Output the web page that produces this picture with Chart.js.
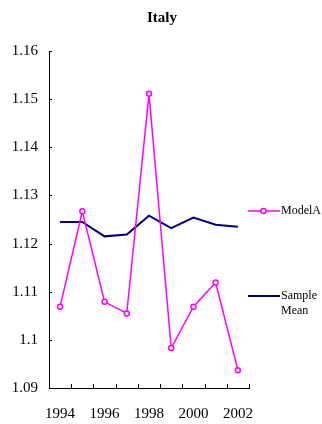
<!DOCTYPE html>
<html>
<head>
<meta charset="utf-8">
<script src="https://cdn.jsdelivr.net/npm/chart.js@4/dist/chart.umd.min.js"></script>
<style>
  html, body { margin: 0; padding: 0; background: #fff; }
  #wrap { width: 322px; height: 424px; }
</style>
</head>
<body>
<div id="wrap"><canvas id="myChart" width="322" height="424"></canvas></div>
<script>
const years = ['1994', '1995', '1996', '1997', '1998', '1999', '2000', '2001', '2002'];
const modelA = [1.1069, 1.1267, 1.1079, 1.1055, 1.1511, 1.0983, 1.1069, 1.1119, 1.0937];
const sampleMean = [1.1245, 1.1245, 1.1215, 1.1219, 1.1258, 1.1232, 1.1254, 1.1239, 1.1235];
const yTicks = [1.09, 1.10, 1.11, 1.12, 1.13, 1.14, 1.15, 1.16];

const serif = '"Liberation Serif", "Times New Roman", serif';

// title, inside tick marks and the legend on the right
const extras = {
    id: 'extras',
    afterDraw(chart) {
        const c = chart.ctx;
        const area = chart.chartArea;
        const ys = chart.scales.y;
        c.save();
        c.strokeStyle = '#000';
        c.lineWidth = 1;
        c.beginPath();
        yTicks.forEach(v => {
            const y = Math.round(ys.getPixelForValue(v)) + 0.5;
            c.moveTo(area.left, y);
            c.lineTo(area.left + 3, y);
        });
        const n = years.length;
        for (let i = 0; i <= n; i++) {
            const x = Math.round(area.left + i * (area.right - area.left) / n) + 0.5;
            c.moveTo(x, area.bottom);
            c.lineTo(x, area.bottom - 4);
        }
        c.stroke();

        c.fillStyle = '#000';
        c.font = 'bold 15px ' + serif;
        c.textAlign = 'center';
        c.textBaseline = 'middle';
        c.fillText('Italy', 162, 18);

        // legend
        c.lineWidth = 1.5;
        c.strokeStyle = '#FF00FF';
        c.beginPath();
        c.moveTo(248, 211);
        c.lineTo(280, 211);
        c.stroke();
        c.beginPath();
        c.arc(263.5, 211, 2.5, 0, Math.PI * 2);
        c.fillStyle = '#fff';
        c.fill();
        c.stroke();

        c.lineWidth = 2;
        c.strokeStyle = '#000080';
        c.beginPath();
        c.moveTo(248, 296);
        c.lineTo(280, 296);
        c.stroke();

        c.fillStyle = '#000';
        c.font = '12px ' + serif;
        c.textAlign = 'left';
        c.fillText('ModelA', 281, 211);
        c.fillText('Sample', 281, 296);
        c.fillText('Mean', 281, 311);
        c.restore();
    }
};

const ctx = document.getElementById('myChart');
new Chart(ctx, {
    type: 'line',
    data: {
        labels: years,
        datasets: [
            {
                label: 'ModelA',
                data: modelA,
                borderColor: '#FF00FF',
                borderWidth: 1.5,
                pointRadius: 2.5,
                pointBorderWidth: 1.5,
                pointBackgroundColor: '#fff',
                pointBorderColor: '#FF00FF',
                tension: 0
            },
            {
                label: 'Sample Mean',
                data: sampleMean,
                borderColor: '#000080',
                borderWidth: 2,
                pointRadius: 0,
                tension: 0
            }
        ]
    },
    options: {
        responsive: false,
        animation: false,
        devicePixelRatio: 1,
        layout: { padding: { left: 0, right: 73, top: 51, bottom: 0 } },
        plugins: {
            legend: { display: false },
            title: { display: false },
            tooltip: { enabled: false }
        },
        scales: {
            x: {
                type: 'category',
                offset: true,
                grid: { display: true, drawOnChartArea: false, drawTicks: false, offset: true },
                border: { display: true, color: '#000', width: 1 },
                ticks: {
                    autoSkip: false,
                    maxRotation: 0,
                    padding: 17,
                    color: '#000',
                    font: { family: serif, size: 15 },
                    callback: (v, i) => (i % 2 === 0 ? years[i] : '')
                },
                afterFit: s => { s.height = 36; }
            },
            y: {
                min: 1.09,
                max: 1.16,
                grid: { display: true, drawOnChartArea: false, drawTicks: false },
                border: { display: true, color: '#000', width: 1 },
                ticks: {
                    stepSize: 0.01,
                    padding: 11,
                    color: '#000',
                    font: { family: serif, size: 15 },
                    callback: v => String(Number(v.toFixed(2)))
                },
                afterFit: s => { s.width = 49; }
            }
        }
    },
    plugins: [extras]
});
</script>
</body>
</html>
